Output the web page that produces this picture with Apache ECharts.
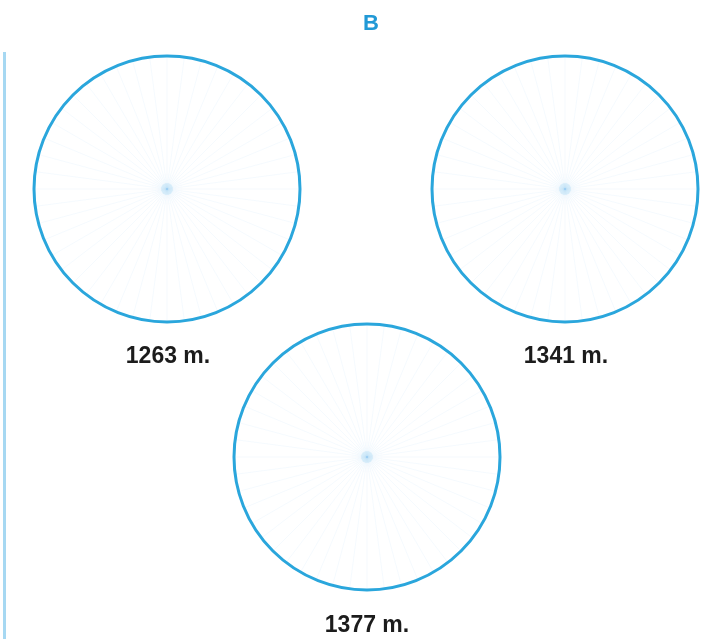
<!DOCTYPE html>
<html>
<head>
<meta charset="utf-8">
<script src="https://cdn.jsdelivr.net/npm/echarts@6/dist/echarts.min.js"></script>
<style>html,body{margin:0;padding:0;background:#fff}#c{width:709px;height:639px}</style>
</head>
<body>
<div id="c"></div>
<script>
var titleText = 'B';
var labels = ['1263 m.', '1341 m.', '1377 m.'];
var spokeCount = 48;
var centerDot = [[0, 0]];

var layout = [
  {center: [167, 189], label: [163, 354]},
  {center: [565, 189], label: [561, 354]},
  {center: [367, 457], label: [362, 623]}
];
var R = 133;

var chart = echarts.init(document.getElementById('c'), null, {renderer: 'canvas'});
var polar = [], angleAxis = [], radiusAxis = [], series = [], titles = [];
var font = 'Liberation Sans, Arial, Helvetica, sans-serif';
titles.push({text: titleText, left: 366, top: 8, textAlign: 'center',
  textStyle: {color: '#2199d6', fontSize: 22, fontWeight: 'bold', fontFamily: font}});
layout.forEach(function (l, k) {
  polar.push({center: l.center, radius: R});
  angleAxis.push({polarIndex: k, type: 'value', min: 0, max: 360, interval: 360 / spokeCount,
    startAngle: 90,
    axisLine: {show: true, lineStyle: {color: '#2aa6dc', width: 3}},
    axisTick: {show: false}, axisLabel: {show: false},
    splitLine: {show: true, lineStyle: {color: 'rgba(120,190,235,0.07)', width: 1}}});
  radiusAxis.push({polarIndex: k, min: 0, max: 1, axisLine: {show: false}, axisTick: {show: false},
    axisLabel: {show: false}, splitLine: {show: false}});
  series.push({type: 'scatter', coordinateSystem: 'polar', polarIndex: k,
    data: centerDot, symbolSize: 12, silent: true,
    itemStyle: {color: 'rgba(110,190,235,0.25)', shadowBlur: 14, shadowColor: 'rgba(110,190,235,0.45)'}});
  titles.push({text: labels[k], left: l.label[0], top: l.label[1] - 14, textAlign: 'center',
    textStyle: {color: '#1c1c1c', fontSize: 23, fontWeight: 'bold', fontFamily: font}});
});

chart.setOption({
  animation: false,
  title: titles,
  polar: polar,
  angleAxis: angleAxis,
  radiusAxis: radiusAxis,
  series: series,
  graphic: [{type: 'rect', shape: {x: 3, y: 52, width: 3, height: 600},
    style: {fill: '#a6d8f2'}}]
});
</script>
</body>
</html>
